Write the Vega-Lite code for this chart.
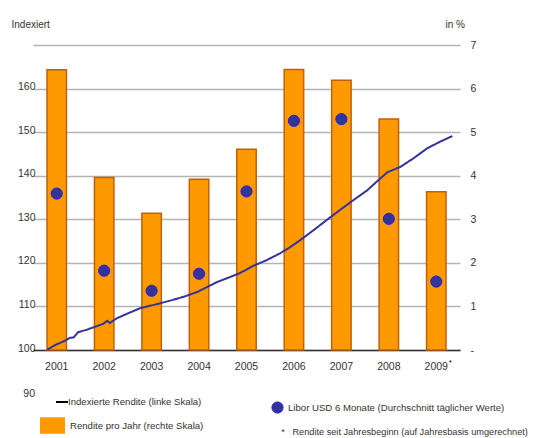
{
  "$schema": "https://vega.github.io/schema/vega-lite/v6.json",
  "width": 427,
  "height": 305,
  "autosize": {"type": "none"},
  "padding": {"left": 33, "top": 45, "right": 77, "bottom": 88},
  "background": "white",
  "config": {
    "font": "Liberation Sans",
    "view": {"stroke": null},
    "axis": {"labelFont": "Liberation Sans", "titleFont": "Liberation Sans", "labelColor": "#333333", "titleColor": "#333333", "labelFontSize": 10.5, "titleFontSize": 10, "titleFontWeight": "normal"},
    "legend": {"labelFont": "Liberation Sans", "labelFontSize": 9.6, "labelColor": "#333333", "padding": 0, "rowPadding": 0, "labelLimit": 400}
  },
  "datasets": {
    "years": [
      {"year": "2001", "r": 6.43, "libor": 3.59, "bar": "Rendite pro Jahr (rechte Skala)", "dot": "Libor USD 6 Monate (Durchschnitt täglicher Werte)"},
      {"year": "2002", "r": 3.96, "libor": 1.82, "bar": "Rendite pro Jahr (rechte Skala)", "dot": "Libor USD 6 Monate (Durchschnitt täglicher Werte)"},
      {"year": "2003", "r": 3.14, "libor": 1.36, "bar": "Rendite pro Jahr (rechte Skala)", "dot": "Libor USD 6 Monate (Durchschnitt täglicher Werte)"},
      {"year": "2004", "r": 3.92, "libor": 1.75, "bar": "Rendite pro Jahr (rechte Skala)", "dot": "Libor USD 6 Monate (Durchschnitt täglicher Werte)"},
      {"year": "2005", "r": 4.61, "libor": 3.64, "bar": "Rendite pro Jahr (rechte Skala)", "dot": "Libor USD 6 Monate (Durchschnitt täglicher Werte)"},
      {"year": "2006", "r": 6.44, "libor": 5.26, "bar": "Rendite pro Jahr (rechte Skala)", "dot": "Libor USD 6 Monate (Durchschnitt täglicher Werte)"},
      {"year": "2007", "r": 6.19, "libor": 5.30, "bar": "Rendite pro Jahr (rechte Skala)", "dot": "Libor USD 6 Monate (Durchschnitt täglicher Werte)"},
      {"year": "2008", "r": 5.30, "libor": 3.01, "bar": "Rendite pro Jahr (rechte Skala)", "dot": "Libor USD 6 Monate (Durchschnitt täglicher Werte)"},
      {"year": "2009", "r": 3.63, "libor": 1.57, "bar": "Rendite pro Jahr (rechte Skala)", "dot": "Libor USD 6 Monate (Durchschnitt täglicher Werte)"}
    ],
    "note": [
      {"year": "2009", "pos": -0.3, "sym": "*", "note": "*\u00a0\u00a0 Rendite seit Jahresbeginn (auf Jahresbasis umgerechnet)"}
    ],
    "index": [
      {"t": 2001.30, "idx": 100.1, "s": "Indexierte Rendite (linke Skala)"},
      {"t": 2001.50, "idx": 101.3, "s": "Indexierte Rendite (linke Skala)"},
      {"t": 2001.65, "idx": 102.0, "s": "Indexierte Rendite (linke Skala)"},
      {"t": 2001.78, "idx": 102.8, "s": "Indexierte Rendite (linke Skala)"},
      {"t": 2001.86, "idx": 102.9, "s": "Indexierte Rendite (linke Skala)"},
      {"t": 2001.95, "idx": 104.1, "s": "Indexierte Rendite (linke Skala)"},
      {"t": 2002.12, "idx": 104.6, "s": "Indexierte Rendite (linke Skala)"},
      {"t": 2002.35, "idx": 105.5, "s": "Indexierte Rendite (linke Skala)"},
      {"t": 2002.48, "idx": 106.0, "s": "Indexierte Rendite (linke Skala)"},
      {"t": 2002.56, "idx": 106.7, "s": "Indexierte Rendite (linke Skala)"},
      {"t": 2002.62, "idx": 106.2, "s": "Indexierte Rendite (linke Skala)"},
      {"t": 2002.77, "idx": 107.3, "s": "Indexierte Rendite (linke Skala)"},
      {"t": 2003.00, "idx": 108.4, "s": "Indexierte Rendite (linke Skala)"},
      {"t": 2003.26, "idx": 109.6, "s": "Indexierte Rendite (linke Skala)"},
      {"t": 2003.60, "idx": 110.5, "s": "Indexierte Rendite (linke Skala)"},
      {"t": 2003.95, "idx": 111.5, "s": "Indexierte Rendite (linke Skala)"},
      {"t": 2004.20, "idx": 112.3, "s": "Indexierte Rendite (linke Skala)"},
      {"t": 2004.46, "idx": 113.3, "s": "Indexierte Rendite (linke Skala)"},
      {"t": 2004.68, "idx": 114.5, "s": "Indexierte Rendite (linke Skala)"},
      {"t": 2004.88, "idx": 115.6, "s": "Indexierte Rendite (linke Skala)"},
      {"t": 2005.12, "idx": 116.6, "s": "Indexierte Rendite (linke Skala)"},
      {"t": 2005.37, "idx": 117.7, "s": "Indexierte Rendite (linke Skala)"},
      {"t": 2005.64, "idx": 119.3, "s": "Indexierte Rendite (linke Skala)"},
      {"t": 2005.92, "idx": 120.6, "s": "Indexierte Rendite (linke Skala)"},
      {"t": 2006.21, "idx": 122.2, "s": "Indexierte Rendite (linke Skala)"},
      {"t": 2006.42, "idx": 123.6, "s": "Indexierte Rendite (linke Skala)"},
      {"t": 2006.63, "idx": 125.2, "s": "Indexierte Rendite (linke Skala)"},
      {"t": 2006.95, "idx": 127.8, "s": "Indexierte Rendite (linke Skala)"},
      {"t": 2007.27, "idx": 130.5, "s": "Indexierte Rendite (linke Skala)"},
      {"t": 2007.48, "idx": 132.2, "s": "Indexierte Rendite (linke Skala)"},
      {"t": 2007.69, "idx": 133.9, "s": "Indexierte Rendite (linke Skala)"},
      {"t": 2008.05, "idx": 136.7, "s": "Indexierte Rendite (linke Skala)"},
      {"t": 2008.26, "idx": 138.8, "s": "Indexierte Rendite (linke Skala)"},
      {"t": 2008.47, "idx": 140.8, "s": "Indexierte Rendite (linke Skala)"},
      {"t": 2008.74, "idx": 142.0, "s": "Indexierte Rendite (linke Skala)"},
      {"t": 2009.02, "idx": 144.0, "s": "Indexierte Rendite (linke Skala)"},
      {"t": 2009.31, "idx": 146.3, "s": "Indexierte Rendite (linke Skala)"},
      {"t": 2009.58, "idx": 147.8, "s": "Indexierte Rendite (linke Skala)"},
      {"t": 2009.84, "idx": 149.1, "s": "Indexierte Rendite (linke Skala)"}
    ],
    "ninety": [{"t": 2001, "idx": 90, "lab": "90"}]
  },
  "layer": [
    {
      "layer": [
        {
          "data": {"name": "index"},
          "mark": {"type": "line", "strokeWidth": 2, "opacity": 0},
          "encoding": {
            "x": {"field": "t", "type": "quantitative", "scale": {"domain": [2001, 2010], "nice": false, "zero": false}, "axis": null},
            "y": {"field": "idx", "type": "quantitative", "scale": {"domain": [100, 170], "nice": false, "zero": false},
              "axis": {"orient": "left", "values": [100, 110, 120, 130, 140, 150, 160, 170], "labelExpr": "datum.value == 170 ? '' : datum.label",
                "grid": true, "gridColor": "#b4b4b4", "gridWidth": 1.5, "domain": false, "ticks": false, "tickSize": 0, "labelPadding": -2, "labelOffset": -2,
                "title": "Indexiert", "titleAngle": 0, "titleAlign": "left", "titleBaseline": "middle", "titleX": -22, "titleY": -21}}
          }
        }
      ]
    },
    {
      "data": {"name": "years"},
      "layer": [
        {
          "mark": {"type": "bar", "stroke": "#c0600a", "strokeWidth": 1.5},
          "encoding": {
            "x": {"field": "year", "type": "nominal", "sort": null, "scale": {"paddingInner": 0.59, "paddingOuter": 0.295},
              "axis": {"title": null, "labelAngle": 0, "domain": true, "domainColor": "#333333", "domainWidth": 1.5, "ticks": false, "tickSize": 0, "labelPadding": 11}},
            "y": {"field": "r", "type": "quantitative", "scale": {"domain": [0, 7], "nice": false},
              "axis": {"orient": "right", "values": [0, 1, 2, 3, 4, 5, 6, 7], "labelExpr": "datum.value == 0 ? '-' : datum.label", "grid": false, "domain": false, "ticks": false, "tickSize": 0, "labelPadding": 10,
                "title": "in %", "titleAngle": 0, "titleAlign": "left", "titleBaseline": "middle", "titleX": -15, "titleY": -21}},
            "fill": {"field": "bar", "type": "nominal", "scale": {"range": ["#ff9900"]},
              "legend": {"title": null, "orient": "none", "legendX": 7, "legendY": 368, "symbolType": "M-1,-0.66H1V0.66H-1Z", "symbolSize": 625, "symbolStrokeWidth": 0, "labelOffset": 5}}
          }
        },
        {
          "mark": {"type": "circle", "opacity": 1, "stroke": "#2020e0", "strokeWidth": 1},
          "encoding": {
            "x": {"field": "year", "type": "nominal", "sort": null},
            "y": {"field": "libor", "type": "quantitative"},
            "size": {"value": 125},
            "color": {"field": "dot", "type": "nominal", "scale": {"range": ["#333399"]},
              "legend": {"title": null, "orient": "none", "legendX": 238, "legendY": 356, "symbolType": "circle", "symbolSize": 125, "symbolStrokeColor": "#2020e0", "symbolStrokeWidth": 1, "labelOffset": 4}}
          }
        },
        {
          "data": {"name": "note"},
          "mark": {"type": "text", "dx": 14, "fontSize": 8, "baseline": "middle"},
          "encoding": {
            "x": {"field": "year", "type": "nominal", "sort": null},
            "y": {"field": "pos", "type": "quantitative"},
            "text": {"field": "sym"},
            "opacity": {"field": "note", "type": "nominal", "scale": {"range": [1]},
              "legend": {"title": null, "orient": "none", "legendX": 242, "legendY": 382, "symbolType": "M0,-1.8V0.2M-0.87,-1.3L0.87,-0.3M-0.87,-0.3L0.87,-1.3", "symbolSize": 16, "symbolFillColor": "transparent", "symbolStrokeColor": "transparent", "symbolStrokeWidth": 0, "labelOffset": -3, "labelFontSize": 9.2}}
          }
        }
      ]
    },
    {
      "data": {"name": "index"},
      "layer": [
        {
          "mark": {"type": "line", "strokeWidth": 2, "stroke": "#333399"},
          "encoding": {
            "x": {"field": "t", "type": "quantitative", "scale": {"domain": [2001, 2010], "nice": false, "zero": false}, "axis": null},
            "y": {"field": "idx", "type": "quantitative", "scale": {"domain": [100, 170], "nice": false, "zero": false}, "axis": null},
            "strokeDash": {"field": "s", "type": "nominal", "scale": {"range": [[1, 0]]},
              "legend": {"title": null, "orient": "none", "legendX": 22, "legendY": 350, "symbolType": "stroke", "symbolSize": 144, "symbolStrokeWidth": 2, "symbolStrokeColor": "#000000", "labelOffset": -1}}
          }
        },
        {
          "data": {"name": "ninety"},
          "mark": {"type": "text", "align": "right", "baseline": "middle", "dx": 2, "fontSize": 10.5, "color": "#333333"},
          "encoding": {
            "x": {"field": "t", "type": "quantitative"},
            "y": {"field": "idx", "type": "quantitative"},
            "text": {"field": "lab"}
          }
        }
      ]
    }
  ],
  "resolve": {"scale": {"x": "independent", "y": "independent", "fill": "independent", "color": "independent", "strokeDash": "independent", "opacity": "independent"}}
}
